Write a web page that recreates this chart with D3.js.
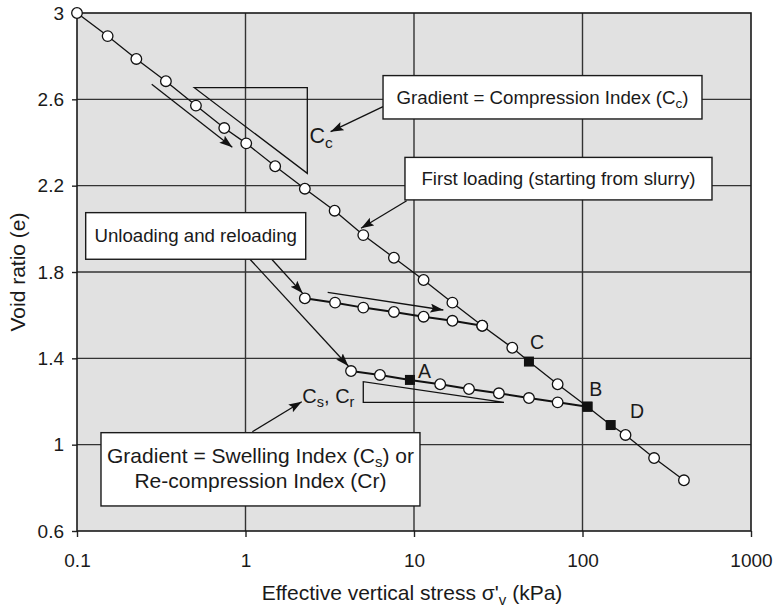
<!DOCTYPE html>
<html><head><meta charset="utf-8">
<script src="https://cdn.jsdelivr.net/npm/d3@7"></script>
<style>
body{margin:0;background:#fff}
text{font-family:"Liberation Sans",Arial,Helvetica,sans-serif;fill:#1a1a1a}
</style>
</head><body>
<svg id="chart" width="779" height="608"></svg>
<script>
// ---------------- data ----------------
const xTicks = [0.1, 1, 10, 100, 1000];
const xTickLabels = ["0.1", "1", "10", "100", "1000"];
const yTicks = [0.6, 1, 1.4, 1.8, 2.2, 2.6, 3];
const yTickLabels = ["0.6", "1", "1.4", "1.8", "2.2", "2.6", "3"];

// first loading (from slurry)
const firstStress = [0.1, 0.152, 0.225, 0.337, 0.508, 0.748, 1.01, 1.50, 2.25, 3.38, 5.0, 7.6, 11.4, 16.9, 25.4, 38.3, 48.1, 71.2, 107, 147, 180, 266, 400];
const firstVoid   = [3.0, 2.893, 2.787, 2.684, 2.571, 2.467, 2.396, 2.29, 2.186, 2.084, 1.971, 1.866, 1.763, 1.658, 1.551, 1.449, 1.385, 1.280, 1.176, 1.091, 1.045, 0.938, 0.835];
const firstMarker = ["o","o","o","o","o","o","o","o","o","o","o","o","o","o","o","o","s","o","s","s","o","o","o"];

// first unload-reload loop
const loop1Stress = [2.25, 3.4, 5.0, 7.6, 11.4, 16.9, 25.4];
const loop1Void   = [1.678, 1.658, 1.635, 1.615, 1.593, 1.574, 1.551];
const loop1Marker = ["o","o","o","o","o","o","o"];

// second unload-reload loop
const loop2Stress = [4.23, 6.28, 9.46, 14.3, 21.2, 31.9, 48.1, 71.2, 107];
const loop2Void   = [1.341, 1.323, 1.30, 1.28, 1.258, 1.238, 1.216, 1.196, 1.176];
const loop2Marker = ["o","o","s","o","o","o","o","o","s"];

// point labels
const pointLabels = ["A", "C", "B", "D"];
const pointLabelStress = [10.56, 48.8, 109.7, 191.4];
const pointLabelVoid = [1.309, 1.442, 1.227, 1.122];

// ---------------- layout ----------------
const plot = {left: 77, right: 751, top: 13, bottom: 531};
const svg = d3.select("#chart");
const x = d3.scaleLog().domain([0.1, 1000]).range([plot.left, plot.right]);
const y = d3.scaleLinear().domain([0.6, 3]).range([plot.bottom, plot.top]);
const FONT = 18.7;
const FAM = '"Liberation Sans",Arial,sans-serif';

svg.append("defs").append("marker")
  .attr("id", "arr").attr("markerUnits", "userSpaceOnUse")
  .attr("markerWidth", 14).attr("markerHeight", 10)
  .attr("refX", 13).attr("refY", 4.5).attr("orient", "auto")
  .append("path").attr("d", "M0,0 L13,4.5 L0,9 L2.5,4.5 Z").attr("fill", "#111");

// background
svg.append("rect").attr("x", plot.left).attr("y", plot.top)
  .attr("width", plot.right - plot.left).attr("height", plot.bottom - plot.top)
  .attr("fill", "#e1e1e1");

// grid
const grid = svg.append("g");
grid.selectAll(".gx").data(xTicks.slice(1, -1)).join("line")
  .attr("x1", d => x(d)).attr("x2", d => x(d)).attr("y1", plot.top).attr("y2", plot.bottom)
  .attr("stroke", "#333").attr("stroke-width", 1.4);
grid.selectAll(".gy").data(yTicks.slice(1, -1)).join("line")
  .attr("y1", d => y(d)).attr("y2", d => y(d)).attr("x1", plot.left).attr("x2", plot.right)
  .attr("stroke", "#333").attr("stroke-width", 1.4);

// axes
const xAxis = d3.axisBottom(x).tickValues(xTicks).tickFormat((d, i) => xTickLabels[i]).tickSize(6).tickSizeOuter(0);
const gx = svg.append("g").attr("transform", `translate(0,${plot.bottom})`).call(xAxis);
gx.select(".domain").remove();
gx.selectAll("line").attr("stroke", "#222").attr("stroke-width", 1.4);
gx.selectAll("text").attr("font-size", 19).attr("dy", null).attr("y", 36).attr("fill", "#1a1a1a")
  .attr("font-family", FAM);

const yAxis = d3.axisLeft(y).tickValues(yTicks).tickFormat((d, i) => yTickLabels[i]).tickSize(5).tickSizeOuter(0);
const gy = svg.append("g").attr("transform", `translate(${plot.left},0)`).call(yAxis);
gy.select(".domain").remove();
gy.selectAll("line").attr("stroke", "#222").attr("stroke-width", 1.4);
gy.selectAll("text").attr("font-size", 19).attr("x", -13).attr("fill", "#1a1a1a")
  .attr("font-family", FAM);

// frame
svg.append("rect").attr("x", plot.left).attr("y", plot.top)
  .attr("width", plot.right - plot.left).attr("height", plot.bottom - plot.top)
  .attr("fill", "none").attr("stroke", "#1a1a1a").attr("stroke-width", 1.6);

// axis titles
const xt = svg.append("text").attr("x", 412).attr("y", 600)
  .attr("text-anchor", "middle").attr("font-size", 21);
xt.append("tspan").text("Effective vertical stress σ'");
xt.append("tspan").attr("font-size", 15).attr("dy", 5).text("v");
xt.append("tspan").attr("dy", -5).text(" (kPa)");

svg.append("text").attr("transform", `translate(25,${(plot.top + plot.bottom) / 2}) rotate(-90)`)
  .attr("text-anchor", "middle").attr("font-size", 21).text("Void ratio (e)");

// ---------------- annotations (data coordinates) ----------------
const ann = svg.append("g");
function seg(p, q, arrow, w) {
  ann.append("line").attr("x1", x(p[0])).attr("y1", y(p[1])).attr("x2", x(q[0])).attr("y2", y(q[1]))
    .attr("stroke", "#111").attr("stroke-width", w || 1.3)
    .attr("marker-end", arrow ? "url(#arr)" : null);
}
function poly(pts) {
  ann.append("path").attr("d", d3.line().x(d => x(d[0])).y(d => y(d[1]))(pts) + "Z")
    .attr("fill", "none").attr("stroke", "#111").attr("stroke-width", 1.3);
}
// Cc triangle and arrow parallel to first loading
poly([[0.497, 2.654], [2.327, 2.654], [2.327, 2.257]]);
seg([0.2776, 2.670], [0.835, 2.378], true);
// Cs triangle
poly([[5.0, 1.292], [5.0, 1.196], [34.2, 1.196]]);
// arrow along reloading branch
seg([3.075, 1.706], [14.93, 1.624], true);
// arrows from boxes
seg([6.55, 2.566], [3.20, 2.450], true);
seg([9.05, 2.130], [4.85, 2.0025], true);
seg([1.431, 1.859], [2.185, 1.701], true);
seg([1.063, 1.859], [4.075, 1.3646], true);
seg([1.098, 1.060], [2.156, 1.199], true);

// ---------------- data lines ----------------
const line = d3.line().x(d => x(d[0])).y(d => y(d[1]));
const series = [
  {s: firstStress, v: firstVoid, m: firstMarker, w: 1.3},
  {s: loop1Stress, v: loop1Void, m: loop1Marker, w: 2.0},
  {s: loop2Stress, v: loop2Void, m: loop2Marker, w: 2.0}
];
series.forEach(sr => {
  const pts = sr.s.map((d, i) => [d, sr.v[i], sr.m[i]]);
  svg.append("path").attr("d", line(pts)).attr("fill", "none").attr("stroke", "#111").attr("stroke-width", sr.w);
});
series.forEach(sr => {
  const pts = sr.s.map((d, i) => [d, sr.v[i], sr.m[i]]);
  svg.append("g").selectAll("circle").data(pts.filter(p => p[2] === "o")).join("circle")
    .attr("cx", d => x(d[0])).attr("cy", d => y(d[1])).attr("r", 5.3)
    .attr("fill", "#fff").attr("stroke", "#111").attr("stroke-width", 1.3);
  svg.append("g").selectAll("rect").data(pts.filter(p => p[2] === "s")).join("rect")
    .attr("x", d => x(d[0]) - 5).attr("y", d => y(d[1]) - 5).attr("width", 10).attr("height", 10)
    .attr("fill", "#111");
});

// point labels
svg.append("g").selectAll("text").data(pointLabels).join("text")
  .attr("x", (d, i) => x(pointLabelStress[i])).attr("y", (d, i) => y(pointLabelVoid[i]))
  .attr("font-size", 19.5).text(d => d);

// Cc label
const cc = svg.append("text").attr("x", x(2.40)).attr("y", y(2.396)).attr("font-size", 21.5);
cc.append("tspan").text("C");
cc.append("tspan").attr("font-size", 15.5).attr("dy", 4.5).text("c");

// Cs, Cr label
const cs = svg.append("text").attr("x", x(2.174)).attr("y", y(1.192)).attr("font-size", 20);
cs.append("tspan").text("C");
cs.append("tspan").attr("font-size", 14.5).attr("dy", 4).text("s");
cs.append("tspan").attr("dy", -4).text(", C");
cs.append("tspan").attr("font-size", 14.5).attr("dy", 4).text("r");

// ---------------- text boxes ----------------
function box(x0, x1, e0, e1) {
  const bx = x(x0), bx1 = x(x1), by = y(e0), by1 = y(e1);
  svg.append("rect").attr("x", bx).attr("y", by).attr("width", bx1 - bx).attr("height", by1 - by)
    .attr("fill", "#fff").attr("stroke", "#1a1a1a").attr("stroke-width", 1.4);
  return {cx: (bx + bx1) / 2, cy: (by + by1) / 2};
}
let b = box(6.55, 511.8, 2.710, 2.509);
let t = svg.append("text").attr("x", b.cx).attr("y", b.cy + 6.5).attr("text-anchor", "middle").attr("font-size", FONT);
t.append("tspan").text("Gradient = Compression Index (C");
t.append("tspan").attr("font-size", 13.5).attr("dy", 4).text("c");
t.append("tspan").attr("dy", -4).text(")");

b = box(8.84, 586.8, 2.331, 2.134);
svg.append("text").attr("x", b.cx).attr("y", b.cy + 6.5).attr("text-anchor", "middle").attr("font-size", FONT)
  .text("First loading (starting from slurry)");

b = box(0.1126, 2.277, 2.075, 1.859);
svg.append("text").attr("x", b.cx).attr("y", b.cy + 6.5).attr("text-anchor", "middle").attr("font-size", FONT)
  .text("Unloading and reloading");

b = box(0.1388, 10.85, 1.0556, 0.716);
t = svg.append("text").attr("x", b.cx).attr("y", b.cy - 6).attr("text-anchor", "middle").attr("font-size", 21);
t.append("tspan").text("Gradient = Swelling Index (C");
t.append("tspan").attr("font-size", 15).attr("dy", 4).text("s");
t.append("tspan").attr("dy", -4).text(") or");
svg.append("text").attr("x", b.cx).attr("y", b.cy + 19).attr("text-anchor", "middle").attr("font-size", 21)
  .text("Re-compression Index (Cr)");
</script>
</body></html>
